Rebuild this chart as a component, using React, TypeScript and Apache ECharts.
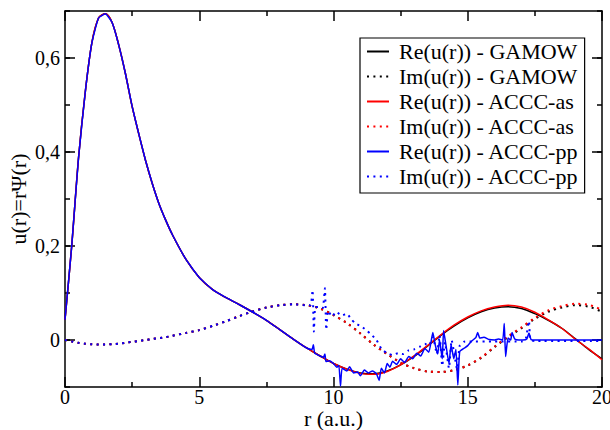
import React, { useEffect, useRef } from "react";
import * as echarts from "echarts";

// ---- data ----
const rGrid = [0, 0.25, 0.5, 0.75, 1, 1.25, 1.5, 1.75, 2, 2.25, 2.5, 2.75, 3, 3.25, 3.5, 3.75, 4, 4.5, 5, 5.5, 6, 6.5, 7, 7.5, 8, 8.5, 9, 9.5, 10, 10.5, 11, 11.5, 12, 12.5, 13, 13.5, 14, 14.5, 15, 15.5, 16, 16.5, 17, 17.5, 18, 18.5, 19, 19.5, 20];

const reGamow = [0.043, 0.2, 0.385, 0.525, 0.632, 0.685, 0.694, 0.676, 0.628, 0.567, 0.497, 0.438, 0.382, 0.333, 0.29, 0.255, 0.224, 0.172, 0.133, 0.107, 0.09, 0.075, 0.059, 0.042, 0.022, 0.002, -0.017, -0.034, -0.05, -0.062, -0.07, -0.072, -0.066, -0.053, -0.035, -0.013, 0.01, 0.03, 0.047, 0.06, 0.068, 0.071, 0.067, 0.056, 0.042, 0.025, 0.003, -0.02, -0.04];

const imGamow = [0, -0.003, -0.006, -0.008, -0.009, -0.0095, -0.0095, -0.009, -0.008, -0.006, -0.004, -0.002, 0.0, 0.002, 0.004, 0.006, 0.009, 0.015, 0.021, 0.03, 0.04, 0.051, 0.061, 0.069, 0.074, 0.076, 0.074, 0.067, 0.053, 0.036, 0.014, -0.01, -0.03, -0.048, -0.06, -0.067, -0.068, -0.064, -0.054, -0.038, -0.015, 0.006, 0.025, 0.045, 0.06, 0.069, 0.074, 0.071, 0.06];

const reAccAs = [0.043, 0.2, 0.385, 0.525, 0.632, 0.685, 0.694, 0.676, 0.628, 0.567, 0.497, 0.438, 0.382, 0.333, 0.29, 0.255, 0.224, 0.172, 0.133, 0.107, 0.09, 0.075, 0.059, 0.042, 0.022, 0.002, -0.017, -0.034, -0.05, -0.062, -0.071, -0.073, -0.067, -0.053, -0.034, -0.012, 0.011, 0.032, 0.049, 0.062, 0.07, 0.074, 0.07, 0.059, 0.043, 0.025, 0.002, -0.019, -0.042];

const imAccAs = [0, -0.003, -0.006, -0.008, -0.009, -0.0095, -0.0095, -0.009, -0.008, -0.006, -0.004, -0.002, 0.0, 0.002, 0.004, 0.006, 0.009, 0.015, 0.021, 0.03, 0.04, 0.051, 0.061, 0.069, 0.074, 0.076, 0.074, 0.067, 0.053, 0.036, 0.014, -0.01, -0.03, -0.048, -0.06, -0.067, -0.068, -0.064, -0.054, -0.037, -0.014, 0.008, 0.027, 0.047, 0.063, 0.072, 0.077, 0.075, 0.064];

// ACCC-pp follows the GAMOW curves up to this radius, then becomes noisy
const ppSplit = 9;

const ppReTailR = [9.2, 9.25, 9.3, 9.5, 9.62, 9.68, 9.72, 9.85, 10.0, 10.12, 10.2, 10.26, 10.32, 10.5, 10.6, 10.75, 10.9, 11.0, 11.15, 11.3, 11.45, 11.6, 11.7, 11.78, 11.9, 12.0, 12.1, 12.2, 12.35, 12.5, 12.65, 12.8, 12.95, 13.1, 13.25, 13.4, 13.55, 13.7, 13.78, 13.88, 13.95, 14.05, 14.1, 14.2, 14.3, 14.38, 14.48, 14.56, 14.63, 14.7, 14.85, 15.0, 15.15, 15.3, 15.37, 15.45, 15.6, 15.8, 16.0, 16.15, 16.3, 16.36, 16.41, 16.5, 16.6, 16.65, 16.75, 16.9, 17.05, 17.2, 17.28, 17.36, 17.6, 18.5, 20];
const ppReTailV = [-0.02, -0.01, -0.028, -0.034, -0.037, -0.03, -0.046, -0.044, -0.05, -0.058, -0.054, -0.098, -0.06, -0.066, -0.057, -0.07, -0.068, -0.076, -0.064, -0.07, -0.066, -0.072, -0.086, -0.06, -0.07, -0.05, -0.058, -0.045, -0.052, -0.04, -0.048, -0.035, -0.04, -0.028, -0.034, -0.018, -0.026, 0.016, -0.008, -0.03, 0.0, -0.04, 0.02, -0.015, -0.05, -0.01, -0.04, -0.02, -0.096, -0.025, -0.018, -0.012, -0.002, 0.005, 0.016, 0.004, 0.006, 0.001, 0.0, 0.002, 0.0, 0.035, -0.035, 0.004, 0.0, 0.016, 0.002, 0.0, 0.0, 0.002, 0.015, 0.001, 0.0, 0.0, 0.0];

const ppImTailR = [9.15, 9.22, 9.27, 9.32, 9.45, 9.6, 9.68, 9.73, 9.8, 9.95, 10.1, 10.3, 10.5, 10.65, 10.8, 11.0, 11.2, 11.4, 11.6, 11.8, 12.0, 12.2, 12.4, 12.6, 12.8, 13.0, 13.2, 13.4, 13.55, 13.7, 13.85, 13.95, 14.05, 14.15, 14.3, 14.4, 14.5, 14.6, 14.7, 14.85, 15.0, 16.0, 17.0, 17.15, 17.28, 17.33, 17.5, 20];
const ppImTailV = [0.074, 0.106, 0.018, 0.07, 0.07, 0.068, 0.11, 0.022, 0.062, 0.05, 0.06, 0.052, 0.056, 0.045, 0.036, 0.03, 0.022, 0.012, 0.0, -0.02, -0.028, -0.032, -0.028, -0.03, -0.022, -0.02, -0.015, -0.008, -0.012, 0.006, -0.03, 0.01, -0.055, -0.005, -0.06, 0.0, -0.03, -0.062, -0.012, -0.004, -0.003, -0.003, -0.003, 0.0, 0.04, 0.0, -0.002, -0.002];

const seriesNames = [
  "Re(u(r)) - GAMOW",
  "Im(u(r)) - GAMOW",
  "Re(u(r)) - ACCC-as",
  "Im(u(r)) - ACCC-as",
  "Re(u(r)) - ACCC-pp",
  "Im(u(r)) - ACCC-pp",
];

const xMin = 0;
const xMax = 20;
const xInterval = 5;
const yMin = -0.1;
const yMax = 0.7;
const yMinorInterval = 0.1;
const yMajorTicks = [0, 0.2, 0.4, 0.6];

// ---- helpers ----
const pairs = (xs: number[], ys: number[]) => xs.map((x, i) => [x, ys[i]]);
const ppRe = [
  ...pairs(rGrid, reGamow).filter((p) => p[0] <= ppSplit),
  ...pairs(ppReTailR, ppReTailV),
];
const ppIm = [
  ...pairs(rGrid, imGamow).filter((p) => p[0] <= ppSplit),
  ...pairs(ppImTailR, ppImTailV),
];

const SERIF = "'Liberation Serif', 'Times New Roman', serif";
const AX = { color: "#000", width: 1.5 };

const solid = (c: string) => ({ color: c, width: 1.5, type: "solid" as const });
const dotted = (c: string) => ({ color: c, width: 2, type: [2, 4.4], cap: "butt" as const });

const mkSeries = (name: string, data: number[][], color: string, ls: any, smooth: number) => ({
  name,
  type: "line",
  data,
  symbol: "none",
  showSymbol: false,
  smooth,
  lineStyle: ls,
  itemStyle: { color },
  emphasis: { disabled: true },
  z: 2,
});

const xAxisBase = (pos: "bottom" | "top", labels: boolean) => ({
  type: "value",
  position: pos,
  min: xMin,
  max: xMax,
  interval: xInterval,
  axisLine: { show: true, onZero: false, lineStyle: AX },
  axisTick: { show: true, inside: true, length: 10, lineStyle: AX },
  minorTick: { show: true, splitNumber: 2, length: 5, lineStyle: AX },
  splitLine: { show: false },
  minorSplitLine: { show: false },
  axisLabel: labels
    ? { show: true, fontFamily: SERIF, fontSize: 20, lineHeight: 18, color: "#000", margin: 1 }
    : { show: false },
  ...(labels
    ? {
        name: "r (a.u.)",
        nameLocation: "middle",
        nameGap: 20,
        nameMoveOverlap: false,
        nameTextStyle: { fontFamily: SERIF, fontSize: 22, color: "#000" },
      }
    : {}),
});

const yMinorAxis = (pos: "left" | "right") => ({
  type: "value",
  position: pos,
  min: yMin,
  max: yMax,
  interval: yMinorInterval,
  axisLine: { show: true, onZero: false, lineStyle: AX },
  axisTick: { show: true, inside: true, length: 5, lineStyle: AX },
  axisLabel: { show: false },
  splitLine: { show: false },
});

const yMajorAxis = (pos: "left" | "right", labels: boolean) => ({
  type: "value",
  position: pos,
  min: yMin,
  max: yMax,
  axisLine: { show: false, onZero: false },
  axisTick: { show: true, inside: true, length: 10, lineStyle: AX, customValues: yMajorTicks },
  axisLabel: labels
    ? {
        show: true,
        customValues: yMajorTicks,
        fontFamily: SERIF,
        fontSize: 20,
        color: "#000",
        margin: 5,
        formatter: (v: number) => String(Math.round(v * 10) / 10).replace(".", ","),
      }
    : { show: false },
  splitLine: { show: false },
  ...(labels
    ? {
        name: "u(r)=rΨ(r)",
        nameLocation: "middle",
        nameRotate: 90,
        nameGap: 36,
        nameMoveOverlap: false,
        nameTextStyle: { fontFamily: SERIF, fontSize: 22, color: "#000" },
      }
    : {}),
});

const option: any = {
  animation: false,
  backgroundColor: "#fff",
  grid: { left: 65, right: 8, top: 11, bottom: 43, containLabel: false, outerBoundsMode: "none" },
  xAxis: [xAxisBase("bottom", true), xAxisBase("top", false)],
  yAxis: [
    yMinorAxis("left"),
    yMajorAxis("left", true),
    yMinorAxis("right"),
    yMajorAxis("right", false),
  ],
  legend: {
    orient: "vertical",
    left: 360,
    top: 38,
    itemWidth: 22,
    itemHeight: 14,
    itemGap: 0,
    padding: [1, 6, 4, 6],
    borderColor: "#000",
    borderWidth: 1.2,
    borderRadius: 0,
    backgroundColor: "#fff",
    selectedMode: false,
    itemStyle: { opacity: 0 },
    lineStyle: { inactiveColor: "#000" },
    textStyle: {
      fontFamily: SERIF,
      fontSize: 22,
      color: "#000",
      lineHeight: 25,
      padding: [0, 0, 0, 5],
    },
    data: seriesNames,
  },
  series: [
    mkSeries(seriesNames[0], pairs(rGrid, reGamow), "#000", solid("#000"), 0.3),
    mkSeries(seriesNames[1], pairs(rGrid, imGamow), "#000", dotted("#000"), 0.3),
    mkSeries(seriesNames[2], pairs(rGrid, reAccAs), "#ff0000", solid("#ff0000"), 0.3),
    mkSeries(seriesNames[3], pairs(rGrid, imAccAs), "#ff0000", dotted("#ff0000"), 0.3),
    mkSeries(seriesNames[4], ppRe, "#0000ff", solid("#0000ff"), 0.15),
    mkSeries(seriesNames[5], ppIm, "#0000ff", dotted("#0000ff"), 0.15),
  ],
};

export default function App() {
  const ref = useRef<HTMLDivElement>(null);
  useEffect(() => {
    if (!ref.current) return;
    const chart = echarts.init(ref.current, null, { renderer: "svg" });
    chart.setOption(option);
    return () => chart.dispose();
  }, []);
  return (
    <div
      ref={ref}
      style={{ position: "absolute", left: 0, top: 0, width: 610, height: 430 }}
    />
  );
}
